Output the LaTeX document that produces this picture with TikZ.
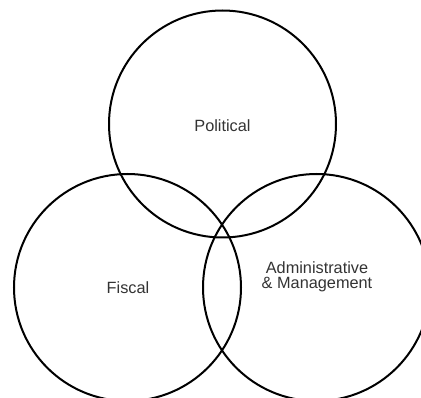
\documentclass[tikz,border=0pt]{standalone}
\usepackage{fontspec}
\setmainfont{Liberation Sans}
\begin{document}
\begin{tikzpicture}[x=1pt,y=-1pt,
  ring/.style={draw=black,line width=2pt},
  caption/.style={text=black!80,font=\fontsize{16.3}{15.5}\selectfont,align=center,anchor=base,inner sep=0pt}]
  \useasboundingbox (0,0) rectangle (421,398);
  \clip (0,0) rectangle (421,398);
  % three overlapping sets
  \draw[ring] (222.5,124) circle[radius=113.5];
  \draw[ring] (127.5,287.5) circle[radius=113.5];
  \draw[ring] (316.5,287.5) circle[radius=113.5];
  % set names
  \node[caption] (political) at (222.5,131.5) {Political};
  \node[caption] (fiscal) at (128,294) {Fiscal};
  \node[caption] (admin) at (317,288.3) {Administrative\\[-0.5pt]\& Management};
\end{tikzpicture}
\end{document}
